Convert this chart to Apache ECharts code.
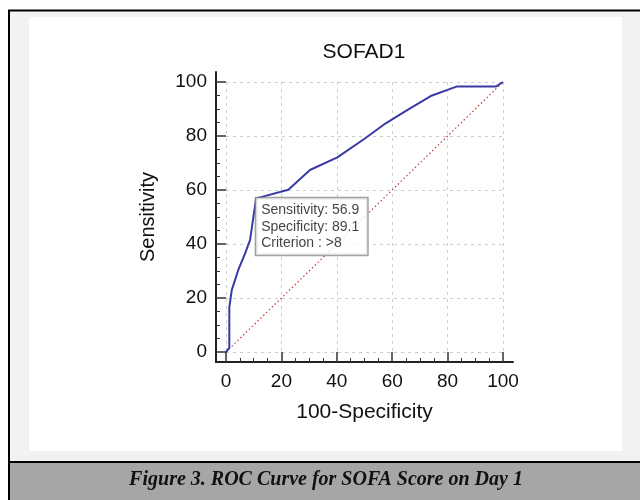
<!DOCTYPE html>
<html><head><meta charset="utf-8">
<script src="https://cdn.jsdelivr.net/npm/echarts@6/dist/echarts.min.js"></script>
<style>html,body{margin:0;padding:0;background:#fff}#c{width:640px;height:500px}</style>
</head><body><div id="c"></div>
<script>
const chartTitle = 'SOFAD1';
const xAxisName = '100-Specificity';
const yAxisName = 'Sensitivity';
const captionText = 'Figure 3. ROC Curve for SOFA Score on Day 1';
const axisTickValues = [0, 20, 40, 60, 80, 100];
const rocFpr = [0, 1.2, 1.2, 1.6, 2.1, 4.4, 6.9, 8.7, 9.9, 10.9, 22.5, 30.3, 40.2, 50.0, 57.8, 65.4, 73.9, 83.2, 97.4, 100];
const rocTpr = [0, 1.5, 16.5, 19.5, 23.0, 30.3, 36.5, 41.5, 50.1, 56.9, 60.1, 67.4, 72.1, 79.0, 84.8, 89.6, 94.8, 98.3, 98.3, 100];
const diagonalX = [0, 100];
const diagonalY = [0, 100];
const cutSensitivity = 56.9;
const cutSpecificity = 89.1;
const cutCriterion = '>8';

const FONT = 'Liberation Sans, Arial, sans-serif';
const tickMin = axisTickValues[0];
const tickMax = axisTickValues[axisTickValues.length - 1];
const tickStep = axisTickValues[1] - axisTickValues[0];
// minor ticks: 4 subdivisions between major ticks
const minorTickValues = [];
for (let i = 0; i < axisTickValues.length - 1; i++) {
  for (let k = 1; k < 4; k++) minorTickValues.push(axisTickValues[i] + tickStep * k / 4);
}

// plot (data) area and the slightly larger frame the axis lines are drawn on
const plot = {left: 226, top: 82, width: 277, height: 270};
const pad = 10;
const frame = {left: plot.left - pad, top: plot.top - pad, width: plot.width + 2 * pad, height: plot.height + 2 * pad};
const xPad = pad * (tickMax - tickMin) / plot.width;
const yPad = pad * (tickMax - tickMin) / plot.height;

const chart = echarts.init(document.getElementById('c'), null, {renderer: 'canvas'});

function frameAxis(isX, major) {
  const p = isX ? xPad : yPad;
  const ax = {
    type: 'value', gridIndex: 0, min: tickMin - p, max: tickMax + p,
    position: isX ? 'bottom' : 'left',
    axisLine: {show: major, onZero: false, lineStyle: {color: '#222', width: 2}},
    axisTick: {show: true, inside: true, length: major ? 10 : 4,
      customValues: major ? axisTickValues : minorTickValues,
      lineStyle: {color: '#333', width: major ? 1.5 : 1}},
    axisLabel: {show: major, customValues: axisTickValues, fontFamily: FONT, fontSize: 19, color: '#111', margin: isX ? 10 : 9},
    splitLine: {show: false}
  };
  if (major) {
    ax.name = isX ? xAxisName : yAxisName;
    ax.nameLocation = 'middle';
    ax.nameGap = isX ? 40 : 58;
    ax.nameRotate = isX ? 0 : 90;
    ax.nameTextStyle = {fontFamily: FONT, fontSize: isX ? 21 : 20, color: '#111'};
  }
  return ax;
}
function dataAxis(isX) {
  return {
    type: 'value', gridIndex: 1, min: tickMin, max: tickMax, interval: tickStep,
    position: isX ? 'bottom' : 'left',
    axisLine: {show: false}, axisTick: {show: false}, axisLabel: {show: false},
    splitLine: {show: true, lineStyle: {color: '#cdcdcd', type: [3, 4], width: 1}}
  };
}

const option = {
  animation: false,
  backgroundColor: '#ffffff',
  graphic: [
    {type: 'rect', z: -10, shape: {x: 9, y: 10.5, width: 660, height: 520}, style: {fill: '#f2f2f2', stroke: '#000', lineWidth: 2}},
    {type: 'rect', z: -9, shape: {x: 29, y: 17, width: 593, height: 434}, style: {fill: '#ffffff'}},
    {type: 'rect', z: -9, shape: {x: 10, y: 463, width: 640, height: 40}, style: {fill: '#a6a6a6'}},
    {type: 'line', z: -8, shape: {x1: 9, y1: 462, x2: 640, y2: 462}, style: {stroke: '#000', lineWidth: 2}},
    {type: 'text', z: 10, x: 326, y: 480, style: {text: captionText, fill: '#111', font: 'italic bold 20px "Liberation Serif", "Times New Roman", serif', textAlign: 'center', textVerticalAlign: 'middle'}},
    {type: 'text', z: 10, x: 364, y: 52, style: {text: chartTitle, fill: '#111', font: '21px ' + FONT, textAlign: 'center', textVerticalAlign: 'middle'}}
  ],
  grid: [
    Object.assign({containLabel: false}, frame),
    Object.assign({containLabel: false}, plot)
  ],
  xAxis: [frameAxis(true, true), frameAxis(true, false), dataAxis(true)],
  yAxis: [frameAxis(false, true), frameAxis(false, false), dataAxis(false)],
  series: [
    {
      type: 'line', xAxisIndex: 2, yAxisIndex: 2, showSymbol: false, silent: true,
      data: diagonalX.map((x, i) => [x, diagonalY[i]]),
      lineStyle: {color: '#c43a3a', width: 1.2, type: [1.5, 2.5]}, z: 2
    },
    {
      type: 'line', xAxisIndex: 2, yAxisIndex: 2, showSymbol: false, silent: true,
      data: rocFpr.map((x, i) => [x, rocTpr[i]]),
      lineStyle: {color: '#3a3aa6', width: 2}, z: 3
    },
    {
      type: 'scatter', xAxisIndex: 2, yAxisIndex: 2, symbolSize: 0, silent: true, z: 5,
      data: [[100 - cutSpecificity, cutSensitivity]],
      label: {
        show: true, position: [0, 0], align: 'left', verticalAlign: 'top',
        formatter: () => 'Sensitivity: ' + cutSensitivity.toFixed(1) + '\nSpecificity: ' + cutSpecificity.toFixed(1) + '\nCriterion : ' + cutCriterion,
        fontFamily: FONT, fontSize: 14, lineHeight: 16.5, color: '#111',
        backgroundColor: '#ffffff', borderColor: '#8a8a8a', borderWidth: 1.5,
        padding: [4, 8, 3, 5]
      }
    }
  ]
};
chart.setOption(option);
</script></body></html>
